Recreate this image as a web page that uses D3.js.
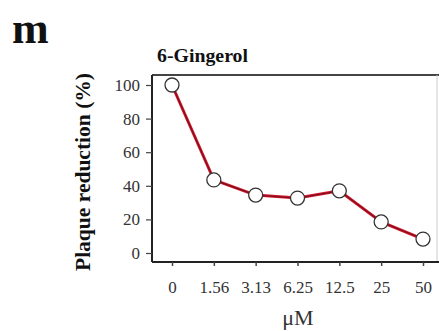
<!DOCTYPE html>
<html><head><meta charset="utf-8">
<script src="https://cdn.jsdelivr.net/npm/d3@7"></script>
<style>body{margin:0;background:#fff}svg{display:block}</style>
</head><body>
<svg id="c" width="439" height="331"></svg>
<script>
const categories = ["0","1.56","3.13","6.25","12.5","25","50"];
const values = [100, 43.5, 34.5, 32.7, 37, 18.5, 8.3];
const yTicks = [0,20,40,60,80,100];
const panelLabel = "m";
const title = "6-Gingerol";
const yLabel = "Plaque reduction (%)";
const xLabel = "μM";

(function () {
const svg = d3.select("#c");
const font = "Liberation Serif, Times New Roman, serif";
const pL = 152, pR = 437, pT = 75, pB = 262;

const x = d3.scalePoint().domain(categories).range([172, 423]);
const y = d3.scaleLinear().domain([0, 100]).range([253, 85]);

// frame
svg.append("line").attr("x1", pL).attr("x2", 439).attr("y1", pT).attr("y2", pT)
  .attr("stroke", "#444").attr("stroke-width", 2);
svg.append("line").attr("x1", pR).attr("x2", pR).attr("y1", pT).attr("y2", pB)
  .attr("stroke", "#ccc").attr("stroke-width", 1);

const yAxis = svg.append("g").attr("transform", `translate(${pL},0)`)
  .call(d3.axisLeft(y).tickValues(yTicks).tickSize(6).tickPadding(6));
yAxis.select(".domain").attr("d", `M0,${pT}V${pB}`).attr("stroke", "#222").attr("stroke-width", 2);
yAxis.selectAll(".tick line").attr("stroke", "#444").attr("stroke-width", 1.2);
yAxis.selectAll("text").attr("font-family", font).attr("font-size", 17).attr("fill", "#333");

const xAxis = svg.append("g").attr("transform", `translate(0,${pB})`)
  .call(d3.axisBottom(x).tickSize(4).tickPadding(15));
xAxis.select(".domain").attr("d", `M${pL},0H439`).attr("stroke", "#222").attr("stroke-width", 2);
xAxis.selectAll(".tick line").attr("stroke", "#444").attr("stroke-width", 1.5);
xAxis.selectAll("text").attr("font-family", font).attr("font-size", 17).attr("fill", "#333");

// line
const line = d3.line().x((d, i) => x(categories[i])).y(d => y(d));
svg.append("path").datum(values).attr("d", line)
  .attr("fill", "none").attr("stroke", "#d41830").attr("stroke-width", 3);
svg.append("path").datum(values).attr("d", line)
  .attr("fill", "none").attr("stroke", "#80101a").attr("stroke-width", 1.2);

svg.selectAll("circle.pt").data(values).enter().append("circle")
  .attr("class", "pt")
  .attr("cx", (d, i) => x(categories[i])).attr("cy", d => y(d)).attr("r", 7)
  .attr("fill", "#fff").attr("stroke", "#333").attr("stroke-width", 1.3);

// texts
svg.append("text").attr("x", 12).attr("y", 43).text(panelLabel)
  .attr("font-family", font).attr("font-weight", "bold").attr("font-size", 44).attr("fill", "#111");
svg.append("text").attr("x", 157).attr("y", 62).text(title)
  .attr("font-family", font).attr("font-weight", "bold").attr("font-size", 19).attr("fill", "#111")
  .attr("textLength", 91).attr("lengthAdjust", "spacingAndGlyphs");
svg.append("text").attr("transform", `translate(90,172) rotate(-90)`)
  .attr("text-anchor", "middle").text(yLabel)
  .attr("font-family", font).attr("font-weight", "bold").attr("font-size", 20).attr("fill", "#111")
  .attr("textLength", 198).attr("lengthAdjust", "spacingAndGlyphs");
svg.append("text").attr("x", 298).attr("y", 325).attr("text-anchor", "middle").text(xLabel)
  .attr("font-family", font).attr("font-size", 22).attr("fill", "#333");
})();
</script>
</body></html>
